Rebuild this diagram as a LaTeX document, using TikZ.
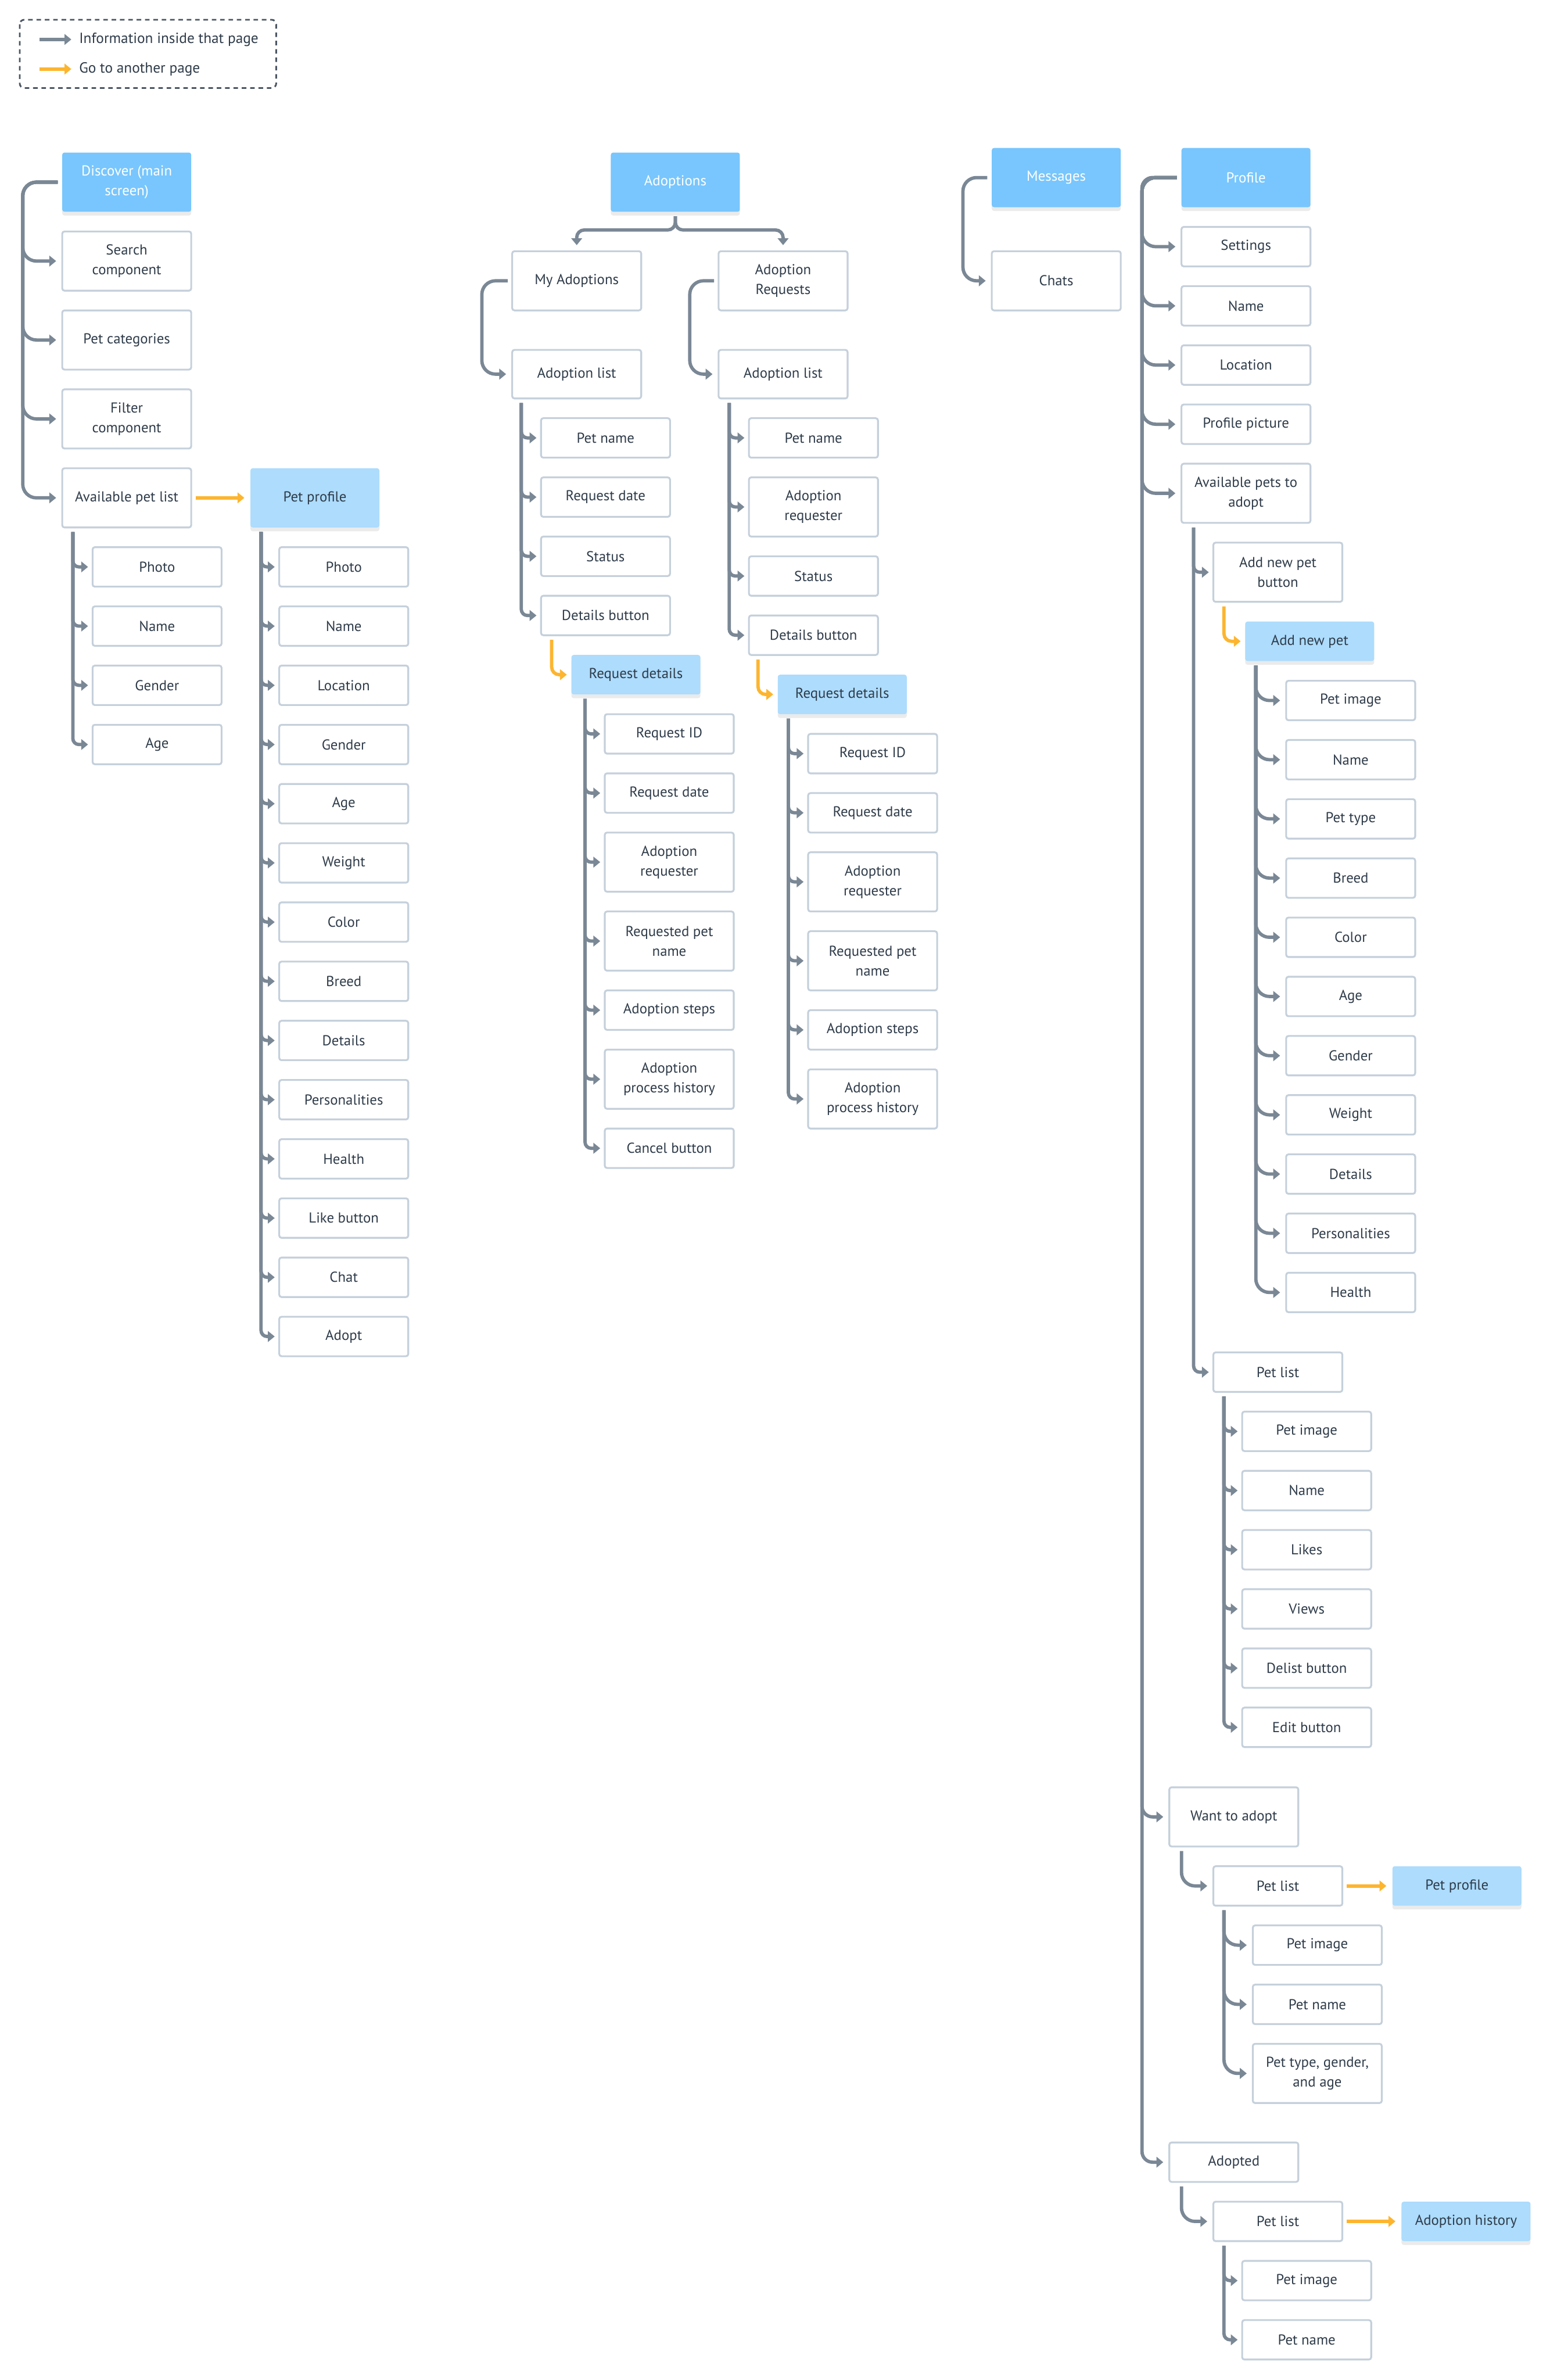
\documentclass[tikz,border=0pt]{standalone}
\usepackage{fontspec}
\setmainfont{PT Sans}
\usetikzlibrary{arrows.meta, positioning, shadows}
\definecolor{pageblue}{HTML}{78C6FD}
\definecolor{subblue}{HTML}{ADDCFD}
\definecolor{linegray}{HTML}{7A8795}
\definecolor{jumporange}{HTML}{FDB52F}
\definecolor{boxline}{HTML}{C5D0DB}
\definecolor{ink}{HTML}{2E3B49}
\definecolor{legline}{HTML}{4B5663}
\tikzset{
  box/.style={rectangle, rounded corners=1.5pt, draw=boxline, line width=1.2pt, fill=white,
    minimum width=85pt, minimum height=26pt, inner sep=2pt, outer sep=0pt,
    align=center, text=ink, font=\fontsize{9.5}{13}\selectfont},
  tallbox/.style={box, minimum height=39pt},
  midbox/.style={box, minimum height=32pt},
  page/.style={tallbox, draw=none, fill=pageblue, text=white,
    drop shadow={fill=black, opacity=0.08, shadow xshift=0pt, shadow yshift=-2.5pt}},
  subpage/.style={box, draw=none, fill=subblue,
    drop shadow={fill=black, opacity=0.08, shadow xshift=0pt, shadow yshift=-2.5pt}},
  conn/.style={color=linegray, line width=2.2pt, rounded corners=9pt, shorten <=3pt, shorten >=4pt,
    -{Triangle[length=4.5pt,width=7pt]}},
  twig/.style={conn, rounded corners=4pt, shorten >=3pt},
  jump/.style={conn, color=jumporange},
  jumptwig/.style={twig, color=jumporange, rounded corners=5pt},
  legtext/.style={anchor=west, inner sep=0pt, text=ink, font=\fontsize{9.7}{11}\selectfont}
}

\begin{document}
\begin{tikzpicture}[x=1pt, y=-1pt, node distance=13pt]
  \fill[white] (0,0) rectangle (1021,1568);
  \useasboundingbox (0,0) rectangle (1021,1568);

  % legend
  \draw[legline, line width=1.1pt, dash pattern=on 3pt off 2.5pt, rounded corners=3pt] (13,13) rectangle (182,58);
  \node[legtext] (leg1) at (52,26) {Information inside that page};
  \node[legtext] (leg2) at (52,45.5) {Go to another page};
  \coordinate (l1) at (26,26);
  \coordinate (l2) at (26,45.5);
  \draw[conn, shorten <=0pt, shorten >=5pt] (l1) -- (leg1.west);
  \draw[jump, shorten <=0pt, shorten >=5pt] (l2) -- (leg2.west);

  % Discover
  \node[page] (disc) at (83.5,120) {Discover (main\\screen)};
  \node[tallbox, below=of disc] (search) {Search\\component};
  \node[tallbox, below=of search] (cats) {Pet categories};
  \node[tallbox, below=of cats] (filter) {Filter\\component};
  \node[tallbox, below=of filter] (avail) {Available pet list};
  \node[subpage, minimum height=39pt, right=39pt of avail] (pprof) {Pet profile};

  \node[box, below right=13pt and 20pt of avail.south west] (aPhoto) {Photo};
  \node[box, below=of aPhoto] (aName) {Name};
  \node[box, below=of aName] (aGender) {Gender};
  \node[box, below=of aGender] (aAge) {Age};

  \node[box, below right=13pt and 19pt of pprof.south west] (ppPhoto) {Photo};
  \node[box, below=of ppPhoto] (ppName) {Name};
  \node[box, below=of ppName] (ppLocation) {Location};
  \node[box, below=of ppLocation] (ppGender) {Gender};
  \node[box, below=of ppGender] (ppAge) {Age};
  \node[box, below=of ppAge] (ppWeight) {Weight};
  \node[box, below=of ppWeight] (ppColor) {Color};
  \node[box, below=of ppColor] (ppBreed) {Breed};
  \node[box, below=of ppBreed] (ppDetails) {Details};
  \node[box, below=of ppDetails] (ppPers) {Personalities};
  \node[box, below=of ppPers] (ppHealth) {Health};
  \node[box, below=of ppHealth] (ppLike) {Like button};
  \node[box, below=of ppLike] (ppChat) {Chat};
  \node[box, below=of ppChat] (ppAdopt) {Adopt};

  \coordinate (dsp) at ([xshift=-26pt]disc.west);
  \draw[conn] (disc.west) -- (dsp) |- (search.west);
  \draw[conn] (disc.west) -- (dsp) |- (cats.west);
  \draw[conn] (disc.west) -- (dsp) |- (filter.west);
  \draw[conn] (disc.west) -- (dsp) |- (avail.west);
  \draw[jump] (avail.east) -- (pprof.west);

  \coordinate (asp) at ([xshift=7pt]avail.south west);
  \draw[twig] (asp) |- (aPhoto.west);
  \draw[twig] (asp) |- (aName.west);
  \draw[twig] (asp) |- (aGender.west);
  \draw[twig] (asp) |- (aAge.west);

  \coordinate (ppsp) at ([xshift=7pt]pprof.south west);
  \draw[twig] (ppsp) |- (ppPhoto.west);
  \draw[twig] (ppsp) |- (ppName.west);
  \draw[twig] (ppsp) |- (ppLocation.west);
  \draw[twig] (ppsp) |- (ppGender.west);
  \draw[twig] (ppsp) |- (ppAge.west);
  \draw[twig] (ppsp) |- (ppWeight.west);
  \draw[twig] (ppsp) |- (ppColor.west);
  \draw[twig] (ppsp) |- (ppBreed.west);
  \draw[twig] (ppsp) |- (ppDetails.west);
  \draw[twig] (ppsp) |- (ppPers.west);
  \draw[twig] (ppsp) |- (ppHealth.west);
  \draw[twig] (ppsp) |- (ppLike.west);
  \draw[twig] (ppsp) |- (ppChat.west);
  \draw[twig] (ppsp) |- (ppAdopt.west);

  % Adoptions
  \node[page] (adopt) at (445,120) {Adoptions};
  \node[tallbox] (myad) at (380,185) {My Adoptions};
  \node[tallbox] (adreq) at (516,185) {Adoption\\Requests};
  \draw[conn, rounded corners=5pt] (adopt.south) -- ++(0,-12pt) -| (myad.north);
  \draw[conn, rounded corners=5pt] (adopt.south) -- ++(0,-12pt) -| (adreq.north);

  \node[midbox, below=26pt of myad] (mlist) {Adoption list};
  \node[midbox, below=26pt of adreq] (rlist) {Adoption list};
  \coordinate (msp) at ([xshift=-20pt]myad.west);
  \coordinate (rsp) at ([xshift=-19pt]adreq.west);
  \draw[conn] (myad.west) -- (msp) |- (mlist.west);
  \draw[conn] (adreq.west) -- (rsp) |- (rlist.west);

  \node[box, below right=13pt and 19pt of mlist.south west] (mPet) {Pet name};
  \node[box, below=of mPet] (mDate) {Request date};
  \node[box, below=of mDate] (mStatus) {Status};
  \node[box, below=of mStatus] (mDetails) {Details button};

  \node[box, below right=13pt and 20pt of rlist.south west] (rPet) {Pet name};
  \node[tallbox, below=of rPet] (rReq) {Adoption\\requester};
  \node[box, below=of rReq] (rStatus) {Status};
  \node[box, below=of rStatus] (rDetails) {Details button};

  \coordinate (mlsp) at ([xshift=6pt]mlist.south west);
  \draw[twig] (mlsp) |- (mPet.west);
  \draw[twig] (mlsp) |- (mDate.west);
  \draw[twig] (mlsp) |- (mStatus.west);
  \draw[twig] (mlsp) |- (mDetails.west);

  \coordinate (rlsp) at ([xshift=7pt]rlist.south west);
  \draw[twig] (rlsp) |- (rPet.west);
  \draw[twig] (rlsp) |- (rReq.west);
  \draw[twig] (rlsp) |- (rStatus.west);
  \draw[twig] (rlsp) |- (rDetails.west);

  \node[subpage, below right=13pt and 20pt of mDetails.south west] (mreq) {Request details};
  \node[subpage, below right=13pt and 19pt of rDetails.south west] (rreq) {Request details};
  \draw[jumptwig] ([xshift=7pt]mDetails.south west) |- (mreq.west);
  \draw[jumptwig] ([xshift=6pt]rDetails.south west) |- (rreq.west);

  \node[box, below right=13pt and 22pt of mreq.south west] (mdID) {Request ID};
  \node[box, below=of mdID] (mdDate) {Request date};
  \node[tallbox, below=of mdDate] (mdReq) {Adoption\\requester};
  \node[tallbox, below=of mdReq] (mdName) {Requested pet\\name};
  \node[box, below=of mdName] (mdSteps) {Adoption steps};
  \node[tallbox, below=of mdSteps] (mdHist) {Adoption\\process history};
  \node[box, below=of mdHist] (mdCancel) {Cancel button};

  \node[box, below right=13pt and 20pt of rreq.south west] (rdID) {Request ID};
  \node[box, below=of rdID] (rdDate) {Request date};
  \node[tallbox, below=of rdDate] (rdReq) {Adoption\\requester};
  \node[tallbox, below=of rdReq] (rdName) {Requested pet\\name};
  \node[box, below=of rdName] (rdSteps) {Adoption steps};
  \node[tallbox, below=of rdSteps] (rdHist) {Adoption\\process history};

  \coordinate (mdsp) at ([xshift=9pt]mreq.south west);
  \draw[twig] (mdsp) |- (mdID.west);
  \draw[twig] (mdsp) |- (mdDate.west);
  \draw[twig] (mdsp) |- (mdReq.west);
  \draw[twig] (mdsp) |- (mdName.west);
  \draw[twig] (mdsp) |- (mdSteps.west);
  \draw[twig] (mdsp) |- (mdHist.west);
  \draw[twig] (mdsp) |- (mdCancel.west);

  \coordinate (rdsp) at ([xshift=7pt]rreq.south west);
  \draw[twig] (rdsp) |- (rdID.west);
  \draw[twig] (rdsp) |- (rdDate.west);
  \draw[twig] (rdsp) |- (rdReq.west);
  \draw[twig] (rdsp) |- (rdName.west);
  \draw[twig] (rdsp) |- (rdSteps.west);
  \draw[twig] (rdsp) |- (rdHist.west);

  % Messages
  \node[page] (msg) at (696,117) {Messages};
  \node[tallbox, below=29pt of msg] (chats) {Chats};
  \coordinate (gsp) at ([xshift=-19pt]msg.west);
  \draw[conn] (msg.west) -- (gsp) |- (chats.west);

  % Profile
  \node[page] (prof) at (821,117) {Profile};
  \node[box, below=of prof] (settings) {Settings};
  \node[box, below=of settings] (pName) {Name};
  \node[box, below=of pName] (pLoc) {Location};
  \node[box, below=of pLoc] (pPic) {Profile picture};
  \node[tallbox, below=of pPic] (pAvail) {Available pets to\\adopt};
  \node[tallbox] (want) at (813,1197) {Want to adopt};
  \node[box] (adopted) at (813,1424.5) {Adopted};

  \coordinate (psp) at ([xshift=-26pt]prof.west);
  \draw[conn] (prof.west) -- (psp) |- (settings.west);
  \draw[conn] (prof.west) -- (psp) |- (pName.west);
  \draw[conn] (prof.west) -- (psp) |- (pLoc.west);
  \draw[conn] (prof.west) -- (psp) |- (pPic.west);
  \draw[conn] (prof.west) -- (psp) |- (pAvail.west);
  \draw[conn, rounded corners=7pt] (prof.west) -- (psp) |- (want.west);
  \draw[conn, rounded corners=7pt] (prof.west) -- (psp) |- (adopted.west);

  % Available pets to adopt
  \node[tallbox, below right=13pt and 21pt of pAvail.south west] (addbtn) {Add new pet\\button};
  \node[subpage, below right=13pt and 21pt of addbtn.south west] (addpet) {Add new pet};
  \node[box] (plist) at (842,904) {Pet list};
  \coordinate (avsp) at ([xshift=8pt]pAvail.south west);
  \draw[twig] (avsp) |- (addbtn.west);
  \draw[twig] (avsp) |- (plist.west);
  \draw[jumptwig] ([xshift=7pt]addbtn.south west) |- (addpet.west);

  \node[box, below right=13pt and 27pt of addpet.south west] (nImage) {Pet image};
  \node[box, below=of nImage] (nName) {Name};
  \node[box, below=of nName] (nType) {Pet type};
  \node[box, below=of nType] (nBreed) {Breed};
  \node[box, below=of nBreed] (nColor) {Color};
  \node[box, below=of nColor] (nAge) {Age};
  \node[box, below=of nAge] (nGender) {Gender};
  \node[box, below=of nGender] (nWeight) {Weight};
  \node[box, below=of nWeight] (nDetails) {Details};
  \node[box, below=of nDetails] (nPers) {Personalities};
  \node[box, below=of nPers] (nHealth) {Health};

  \coordinate (nsp) at ([xshift=7pt]addpet.south west);
  \draw[conn] (nsp) |- (nImage.west);
  \draw[conn] (nsp) |- (nName.west);
  \draw[conn] (nsp) |- (nType.west);
  \draw[conn] (nsp) |- (nBreed.west);
  \draw[conn] (nsp) |- (nColor.west);
  \draw[conn] (nsp) |- (nAge.west);
  \draw[conn] (nsp) |- (nGender.west);
  \draw[conn] (nsp) |- (nWeight.west);
  \draw[conn] (nsp) |- (nDetails.west);
  \draw[conn] (nsp) |- (nPers.west);
  \draw[conn] (nsp) |- (nHealth.west);

  \node[box, below right=13pt and 19pt of plist.south west] (lImage) {Pet image};
  \node[box, below=of lImage] (lName) {Name};
  \node[box, below=of lName] (lLikes) {Likes};
  \node[box, below=of lLikes] (lViews) {Views};
  \node[box, below=of lViews] (lDelist) {Delist button};
  \node[box, below=of lDelist] (lEdit) {Edit button};

  \coordinate (lsp) at ([xshift=7pt]plist.south west);
  \draw[twig] (lsp) |- (lImage.west);
  \draw[twig] (lsp) |- (lName.west);
  \draw[twig] (lsp) |- (lLikes.west);
  \draw[twig] (lsp) |- (lViews.west);
  \draw[twig] (lsp) |- (lDelist.west);
  \draw[twig] (lsp) |- (lEdit.west);

  % Want to adopt
  \node[box, below right=13pt and 29pt of want.south west] (wlist) {Pet list};
  \node[subpage, right=33pt of wlist] (wprof) {Pet profile};
  \draw[conn] ([xshift=8pt]want.south west) |- (wlist.west);
  \draw[jump] (wlist.east) -- (wprof.west);

  \node[box, below right=13pt and 26pt of wlist.south west] (wImage) {Pet image};
  \node[box, below=of wImage] (wName) {Pet name};
  \node[tallbox, below=of wName] (wType) {Pet type, gender,\\and age};
  \coordinate (wsp) at ([xshift=7pt]wlist.south west);
  \draw[conn] (wsp) |- (wImage.west);
  \draw[conn] (wsp) |- (wName.west);
  \draw[conn] (wsp) |- (wType.west);

  % Adopted
  \node[box, below right=13pt and 29pt of adopted.south west] (dlist) {Pet list};
  \node[subpage, right=39pt of dlist] (dhist) {Adoption history};
  \draw[conn] ([xshift=8pt]adopted.south west) |- (dlist.west);
  \draw[jump] (dlist.east) -- (dhist.west);

  \node[box, below right=13pt and 19pt of dlist.south west] (dImage) {Pet image};
  \node[box, below=of dImage] (dName) {Pet name};
  \coordinate (dlsp) at ([xshift=7pt]dlist.south west);
  \draw[twig] (dlsp) |- (dImage.west);
  \draw[twig] (dlsp) |- (dName.west);
\end{tikzpicture}
\end{document}
